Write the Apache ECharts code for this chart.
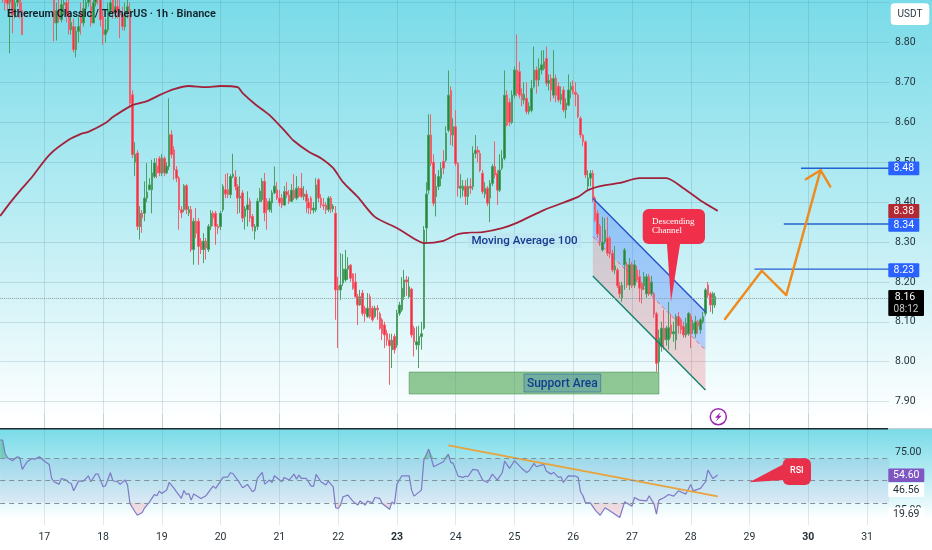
<!DOCTYPE html>
<html><head><meta charset="utf-8">
<style>html,body{margin:0;padding:0;background:#fff}#c{width:932px;height:550px}</style>
<script src="https://cdn.jsdelivr.net/npm/echarts@6/dist/echarts.min.js"></script>
</head><body><div id="c"></div>
<script>
// ---------- tick labels ----------
const dayLabels = [17,18,19,20,21,22,23,24,25,26,27,28,29,30,31];
const boldDays = [23,30];
const titleText = 'Ethereum Classic / TetherUS · 1h · Binance';
// ---------- candles, one array per calendar day: [open, close, low, high] ----------
const day16 = [[8.93,8.95,8.91,8.97],[8.95,8.92,8.90,8.97],[8.92,8.90,8.88,8.94],[8.93,8.897,8.88,8.95],[8.90,8.93,8.773,8.95],[8.93,8.869,8.823,8.95],[8.87,8.90,8.86,8.93],[8.90,8.93,8.89,8.95],[8.93,8.88,8.86,8.95],[8.88,8.82,8.819,8.90],[8.93,8.95,8.915,8.97],[8.95,8.93,8.92,8.98],[8.93,8.96,8.925,8.98],[8.96,8.94,8.93,8.98],[8.94,8.97,8.93,8.99],[8.97,8.95,8.94,8.99],[8.95,8.97,8.94,8.99],[8.97,8.94,8.93,8.99]];
const day17 = [[8.94,8.96,8.93,8.98],[8.96,8.94,8.93,8.98],[8.94,8.96,8.92,8.98],[8.96,8.92,8.91,8.97],[8.92,8.849,8.803,8.93],[8.849,8.88,8.805,8.90],[8.88,8.86,8.85,8.91],[8.857,8.895,8.85,8.92],[8.895,8.90,8.87,8.93],[8.90,8.87,8.85,8.92],[8.873,8.832,8.82,8.91],[8.832,8.85,8.82,8.87],[8.84,8.782,8.775,8.86],[8.782,8.828,8.763,8.84],[8.828,8.84,8.80,8.87],[8.874,8.849,8.82,8.90],[8.849,8.885,8.84,8.91],[8.885,8.90,8.87,8.93],[8.90,8.92,8.89,8.94],[8.89,8.849,8.84,8.91],[8.849,8.90,8.85,8.93],[8.90,8.93,8.89,8.95],[8.93,8.91,8.895,8.95],[8.91,8.857,8.84,8.93]];
const day18 = [[8.865,8.82,8.794,8.88],[8.82,8.832,8.80,8.86],[8.832,8.88,8.825,8.90],[8.88,8.90,8.87,8.93],[8.91,8.874,8.86,8.93],[8.874,8.89,8.86,8.92],[8.89,8.88,8.86,8.91],[8.88,8.87,8.811,8.91],[8.87,8.84,8.83,8.89],[8.84,8.874,8.83,8.90],[8.874,8.89,8.86,8.91],[8.882,8.648,8.64,8.90],[8.669,8.519,8.51,8.68],[8.50,8.52,8.465,8.55],[8.523,8.339,8.33,8.53],[8.339,8.372,8.306,8.39],[8.372,8.36,8.323,8.38],[8.372,8.41,8.352,8.452],[8.41,8.425,8.40,8.498],[8.431,8.443,8.43,8.46],[8.431,8.473,8.372,8.506],[8.464,8.498,8.46,8.51],[8.49,8.473,8.46,8.51],[8.51,8.473,8.465,8.515]];
const day19 = [[8.473,8.51,8.465,8.52],[8.51,8.473,8.465,8.515],[8.473,8.49,8.47,8.50],[8.489,8.569,8.48,8.66],[8.569,8.519,8.51,8.58],[8.531,8.481,8.456,8.54],[8.481,8.46,8.45,8.49],[8.46,8.381,8.331,8.465],[8.381,8.373,8.36,8.39],[8.381,8.441,8.375,8.445],[8.441,8.381,8.37,8.445],[8.373,8.381,8.365,8.39],[8.381,8.281,8.275,8.39],[8.281,8.352,8.243,8.36],[8.352,8.322,8.31,8.385],[8.352,8.289,8.243,8.36],[8.302,8.281,8.27,8.31],[8.281,8.302,8.247,8.322],[8.302,8.285,8.256,8.31],[8.281,8.339,8.275,8.345],[8.339,8.372,8.33,8.38],[8.372,8.36,8.34,8.378],[8.372,8.339,8.293,8.378],[8.339,8.335,8.32,8.345]];
const day20 = [[8.339,8.372,8.33,8.378],[8.381,8.439,8.375,8.445],[8.431,8.42,8.41,8.47],[8.431,8.419,8.41,8.473],[8.419,8.464,8.41,8.47],[8.464,8.47,8.46,8.521],[8.463,8.439,8.43,8.48],[8.439,8.41,8.37,8.445],[8.41,8.415,8.373,8.464],[8.423,8.36,8.35,8.43],[8.364,8.383,8.331,8.39],[8.381,8.393,8.339,8.427],[8.402,8.36,8.35,8.41],[8.364,8.339,8.327,8.37],[8.327,8.339,8.306,8.345],[8.339,8.402,8.33,8.41],[8.402,8.427,8.40,8.435],[8.406,8.452,8.40,8.46],[8.452,8.373,8.352,8.473],[8.402,8.381,8.331,8.41],[8.381,8.402,8.375,8.41],[8.398,8.423,8.373,8.43],[8.423,8.44,8.42,8.489],[8.431,8.41,8.405,8.45]];
const day21 = [[8.41,8.398,8.39,8.43],[8.41,8.393,8.385,8.42],[8.393,8.426,8.39,8.44],[8.426,8.418,8.41,8.45],[8.418,8.402,8.395,8.43],[8.402,8.43,8.40,8.445],[8.43,8.41,8.405,8.47],[8.41,8.435,8.405,8.465],[8.435,8.415,8.41,8.44],[8.435,8.414,8.41,8.473],[8.414,8.42,8.405,8.44],[8.42,8.402,8.373,8.43],[8.40,8.385,8.37,8.41],[8.41,8.38,8.37,8.415],[8.38,8.385,8.372,8.40],[8.381,8.443,8.375,8.46],[8.456,8.41,8.40,8.46],[8.41,8.393,8.385,8.42],[8.393,8.39,8.38,8.41],[8.393,8.381,8.37,8.40],[8.381,8.41,8.375,8.415],[8.41,8.383,8.373,8.415],[8.383,8.39,8.375,8.395],[8.372,8.18,8.105,8.39]];
const day22 = [[8.19,8.18,8.034,8.213],[8.18,8.192,8.155,8.272],[8.197,8.232,8.19,8.27],[8.205,8.232,8.20,8.28],[8.232,8.24,8.205,8.262],[8.242,8.209,8.20,8.245],[8.22,8.184,8.18,8.222],[8.2,8.163,8.16,8.222],[8.163,8.142,8.092,8.17],[8.142,8.163,8.14,8.18],[8.172,8.121,8.115,8.18],[8.134,8.12,8.1,8.14],[8.113,8.134,8.11,8.172],[8.163,8.113,8.108,8.17],[8.134,8.105,8.1,8.14],[8.113,8.134,8.11,8.14],[8.134,8.13,8.105,8.142],[8.12,8.084,8.08,8.125],[8.105,8.071,8.054,8.11],[8.092,8.067,8.034,8.10],[8.071,8.054,8.04,8.08],[8.054,8.04,7.942,8.07],[8.03,8.054,7.984,8.07],[8.063,8.03,8.02,8.07]];
const day23 = [[8.042,8.121,8.035,8.13],[8.121,8.142,8.115,8.15],[8.13,8.184,8.125,8.212],[8.163,8.205,8.155,8.23],[8.205,8.2,8.165,8.215],[8.163,8.188,8.16,8.213],[8.182,8.067,8.06,8.185],[8.084,8.05,8.013,8.09],[8.042,8.05,8.03,8.088],[8.042,8.063,7.984,8.09],[8.063,8.07,8.03,8.10],[8.084,8.33,8.08,8.34],[8.335,8.42,8.30,8.45],[8.43,8.568,8.42,8.62],[8.568,8.497,8.49,8.62],[8.50,8.397,8.39,8.52],[8.414,8.439,8.364,8.47],[8.439,8.464,8.43,8.48],[8.46,8.485,8.44,8.50],[8.502,8.485,8.47,8.53],[8.505,8.573,8.50,8.59],[8.58,8.668,8.575,8.73],[8.68,8.568,8.543,8.69],[8.568,8.589,8.54,8.61]];
const day24 = [[8.589,8.497,8.49,8.63],[8.497,8.435,8.414,8.50],[8.435,8.44,8.41,8.47],[8.43,8.44,8.414,8.455],[8.44,8.414,8.393,8.455],[8.414,8.439,8.393,8.46],[8.44,8.435,8.42,8.46],[8.439,8.522,8.43,8.54],[8.522,8.53,8.51,8.568],[8.53,8.525,8.50,8.54],[8.522,8.48,8.475,8.53],[8.472,8.426,8.42,8.48],[8.42,8.435,8.41,8.45],[8.435,8.397,8.39,8.44],[8.41,8.447,8.35,8.455],[8.447,8.489,8.44,8.495],[8.489,8.468,8.46,8.552],[8.472,8.43,8.393,8.48],[8.43,8.48,8.425,8.52],[8.485,8.51,8.48,8.53],[8.51,8.668,8.505,8.73],[8.668,8.593,8.59,8.68],[8.65,8.60,8.59,8.66],[8.60,8.668,8.595,8.68]];
const day25 = [[8.668,8.731,8.66,8.74],[8.731,8.673,8.665,8.82],[8.727,8.668,8.66,8.752],[8.671,8.656,8.64,8.685],[8.656,8.67,8.645,8.70],[8.66,8.627,8.62,8.70],[8.627,8.64,8.62,8.65],[8.63,8.685,8.625,8.706],[8.689,8.731,8.685,8.79],[8.731,8.706,8.672,8.74],[8.706,8.735,8.69,8.76],[8.731,8.744,8.72,8.78],[8.735,8.752,8.73,8.781],[8.76,8.698,8.69,8.79],[8.698,8.705,8.68,8.72],[8.71,8.681,8.652,8.72],[8.668,8.71,8.66,8.781],[8.71,8.668,8.65,8.72],[8.69,8.656,8.65,8.70],[8.656,8.67,8.645,8.69],[8.681,8.631,8.625,8.69],[8.631,8.648,8.61,8.66],[8.643,8.681,8.64,8.72],[8.681,8.69,8.66,8.70]];
const day26 = [[8.69,8.675,8.67,8.705],[8.675,8.67,8.64,8.70],[8.668,8.614,8.61,8.672],[8.61,8.568,8.56,8.615],[8.568,8.551,8.54,8.57],[8.551,8.468,8.46,8.555],[8.44,8.46,8.43,8.48],[8.46,8.472,8.44,8.48],[8.472,8.41,8.40,8.48],[8.41,8.355,8.35,8.415],[8.372,8.32,8.31,8.38],[8.34,8.30,8.29,8.345],[8.28,8.30,8.276,8.363],[8.30,8.33,8.295,8.36],[8.31,8.272,8.265,8.363],[8.31,8.272,8.26,8.315],[8.272,8.23,8.225,8.28],[8.23,8.24,8.22,8.29],[8.23,8.19,8.185,8.235],[8.19,8.17,8.16,8.20],[8.16,8.192,8.15,8.20],[8.243,8.28,8.18,8.285],[8.243,8.192,8.185,8.25],[8.192,8.243,8.18,8.26]];
const day27 = [[8.243,8.19,8.185,8.25],[8.192,8.243,8.185,8.255],[8.23,8.205,8.20,8.24],[8.213,8.184,8.15,8.23],[8.196,8.18,8.146,8.20],[8.19,8.213,8.18,8.225],[8.17,8.213,8.16,8.22],[8.213,8.17,8.165,8.22],[8.17,8.20,8.165,8.215],[8.17,8.12,8.11,8.175],[8.12,7.996,7.975,8.125],[8.0,8.059,7.975,8.08],[8.038,8.084,8.025,8.10],[8.084,8.055,8.03,8.13],[8.055,8.084,8.04,8.09],[8.055,8.085,8.03,8.15],[8.092,8.07,8.06,8.12],[8.07,8.075,8.05,8.10],[8.055,8.113,8.03,8.12],[8.113,8.09,8.07,8.125],[8.105,8.08,8.07,8.11],[8.088,8.067,8.06,8.10],[8.067,8.096,8.06,8.11],[8.07,8.121,8.065,8.125]];
const day28 = [[8.113,8.07,8.034,8.12],[8.08,8.096,8.07,8.105],[8.07,8.10,8.06,8.115],[8.10,8.09,8.07,8.105],[8.08,8.105,8.07,8.11],[8.10,8.113,8.095,8.125],[8.121,8.18,8.115,8.185],[8.192,8.167,8.16,8.20],[8.17,8.142,8.125,8.175],[8.142,8.17,8.12,8.175],[8.142,8.163,8.135,8.173]];
// ---------- moving average: hour index and value ----------
const maHours = [0,4,9,13,20,28,33,36,43,46,54,60,65,71,77,84,90,97,99,104,110,117,120,126,131,136,140,146,153,162,170,173,181,187,197,205,211,222,236,240,245,253,261,272,279,287,293];
const maValues = [8.365,8.398,8.435,8.463,8.518,8.556,8.571,8.576,8.598,8.613,8.643,8.653,8.668,8.683,8.691,8.688,8.691,8.688,8.673,8.646,8.618,8.573,8.553,8.526,8.510,8.485,8.450,8.413,8.363,8.335,8.305,8.297,8.303,8.320,8.325,8.335,8.348,8.380,8.413,8.430,8.440,8.448,8.460,8.460,8.435,8.400,8.378];
// ---------- RSI: hour index and value ----------
const rsiHours = [0,1,2,3,5,7,8,9,11,13,14,16,18,20,21,22,24,25,27,28,29,30,32,34,36,37,39,40,42,43,45,46,48,49,51,52,53,54,56,58,59,61,63,64,65,66,67,68,69,71,72,74,75,76,77,78,79,82,84,86,87,88,91,93,94,95,97,99,101,103,104,105,107,108,110,111,112,115,116,118,120,121,122,123,125,127,128,129,131,133,134,136,137,138,139,140,142,144,146,147,149,150,152,153,155,156,159,160,161,162,164,167,168,169,172,173,175,177,181,183,184,185,187,189,190,191,193,195,197,199,201,203,205,206,208,210,213,215,216,218,219,222,223,225,226,228,229,230,232,235,236,237,238,239,241,243,245,247,250,253,255,258,259,261,264,265,267,268,269,271,273,275,277,280,282,283,286,288,289,291,293];
const rsiValues = [95.7,95.7,80.6,75.8,72.4,76.9,76,62.6,71.2,75,73.9,76.9,72,68.2,52.4,48.7,46,52.4,50.6,47.9,46.8,38.5,49.4,49.4,55.4,48.7,57.3,57.3,43,44.2,58.8,49.8,48.7,45.7,50.6,45,24.2,19.4,11,14,19.4,26,34.4,32.9,38.2,35.5,37.4,39.3,47.9,41.2,37.4,29.9,38.9,34.4,35.5,28,34.8,29.9,32.9,40.4,43.8,41.2,53.6,54.3,58.8,58,50.6,41.9,45.7,37.4,39.3,52.4,59.2,46,50.6,47.9,55.4,48.7,53.6,50.6,57.3,51.7,56.2,52.4,52.4,43.8,43.8,57,48.7,45,49.4,43,19.4,18.6,22.4,31.8,33.6,26.9,22.4,27.2,22.4,26.9,25,31,29.9,24.2,17.8,26.1,23.5,45.7,55.4,55.4,39.3,32.5,39.3,73,85.5,65.6,71.2,79.9,70.5,69.4,55,53.6,55,54.3,62.6,61.8,50.6,47.9,57.3,50.6,58.8,72,63.7,72.4,63.7,59.2,61.1,69.4,65.6,68.2,60.7,57.3,59.2,53.6,54.3,47.9,55.4,55,53.6,37.4,32.9,25,25,16.7,11,19.4,14,8.5,26.1,21.2,31,28,27.2,32.9,23.5,12.2,28,30.6,34.4,32.5,38.5,34.8,45.7,38.5,41.2,48.7,61.8,52.4,56.2];
const rsiLevels = [25,50,75];
const rsiTrendHours = [183,293];
const rsiTrendValues = [89.75,32.3];
// ---------- drawings ----------
const channelHours = [242,288];
const channelUpper = [8.4095,8.1253];
const channelMid = [8.3133,8.0293];
const channelLower = [8.2148,7.9291];
const supportHours = [167,269];
const supportValues = [7.974,7.919];
const lastPrice = 8.16;
const targetHours = [[327,363],[320,363],[308,363]];
const targetValues = [8.485,8.345,8.232];
const arrowHours = [296,311,321,335];
const arrowValues = [8.107,8.228,8.167,8.48];
const arrowHeadHours = [329,335,339];
const arrowHeadValues = [8.457,8.48,8.439];

const FONT = 'Roboto, sans-serif';
const candles = [].concat(day16,day17,day18,day19,day20,day21,day22,day23,day24,day25,day26,day27,day28);
const categories = [];
for (let i=0;i<364;i++){ const h=(i+6)%24, d=16+Math.floor((i+6)/24); categories.push(d+' '+String(h).padStart(2,'0')); }
const zip=(a,b)=>a.map((x,i)=>[x,b[i]]);
const isDayStart=i=>i>=18 && (i-18)%24===0 && dayLabels.includes(16+Math.floor((i+6)/24));
const bg = () => ({type:'linear',x:0,y:0,x2:0,y2:1,colorStops:[{offset:0,color:'#79dbe8'},{offset:.5,color:'#b7ecf3'},{offset:1,color:'#ffffff'}]});

function tag(x,y,w,h,fill,text,color,font,r){
  return [
    {type:'rect',z:50,shape:{x,y,width:w,height:h,r:r||1},style:{fill}},
    {type:'text',z:51,style:{text,x:x+w/2,y:y+h/2,fill:color,font:font||('10.5px '+FONT),align:'center',verticalAlign:'middle'}}
  ];
}
const graphics = [
  {type:'rect',z:-10,shape:{x:0,y:0,width:932,height:420},style:{fill:bg()}},
  {type:'rect',z:1,shape:{x:0,y:429,width:932,height:121},style:{fill:'#fff'}},
  {type:'rect',z:1,shape:{x:0,y:429,width:932,height:90},style:{fill:bg()}},
  {type:'line',z:3,shape:{x1:0,y1:428.7,x2:888,y2:428.7},style:{stroke:'#1c2a2e',lineWidth:1.4}},
  {type:'line',z:3,shape:{x1:888,y1:428.7,x2:932,y2:428.7},style:{stroke:'#b9c4c8',lineWidth:1}},
  {type:'text',z:60,style:{text:titleText,x:7,y:14,fill:'#10202a',font:'600 10.9px '+FONT,verticalAlign:'middle'}},
  ...tag(890.7,3.3,38.6,21.7,'#ffffff','USDT','#2a3a44','10px '+FONT,4),
  ...tag(888.3,161.5,31,13.8,'#2962ff','8.48','#fff'),
  ...tag(888.3,204,31,14.3,'#b22833','8.38','#fff'),
  ...tag(888.3,218.3,31,13.4,'#2962ff','8.34','#fff'),
  ...tag(888.3,263.3,31,14,'#2962ff','8.23','#fff'),
  {type:'rect',z:50,shape:{x:888.3,y:290,width:35.7,height:26,r:1},style:{fill:'#000'}},
  {type:'text',z:51,style:{text:'8.16',x:905,y:297.5,fill:'#fff',font:'10.5px '+FONT,align:'center',verticalAlign:'middle'}},
  {type:'text',z:51,style:{text:'08:12',x:906,y:309,fill:'#c8c8c8',font:'10px '+FONT,align:'center',verticalAlign:'middle'}},
  // annotations
  {type:'rect',z:40,shape:{x:468,y:233,width:114,height:15,r:2},style:{fill:'rgba(190,225,240,.55)'}},
  {type:'text',z:41,style:{text:'Moving Average 100',x:524.5,y:241,fill:'#17398f',font:'500 11.6px '+FONT,align:'center',verticalAlign:'middle'}},
  {type:'rect',z:40,shape:{x:524,y:374,width:76.7,height:18},style:{fill:'rgba(70,130,175,.35)',stroke:'rgba(40,100,170,.55)',lineWidth:1}},
  {type:'text',z:41,style:{text:'Support Area',x:562.3,y:383.5,fill:'#0f3f8c',font:'500 12px '+FONT,align:'center',verticalAlign:'middle'}},
  {type:'polygon',z:40,shape:{points:[[666.7,240],[680.7,240],[671,301.7]]},style:{fill:'#f0304a'}},
  {type:'rect',z:40,shape:{x:642.7,y:209,width:62.3,height:35,r:6},style:{fill:'#f0304a'}},
  {type:'text',z:41,style:{text:'Descending\nChannel',x:652,y:226,fill:'#fff',font:'9px "Liberation Serif", serif',lineHeight:9,verticalAlign:'middle'}},
  {type:'circle',z:40,shape:{cx:718.3,cy:416.7,r:8},style:{fill:'rgba(255,255,255,.7)',stroke:'#9c27b0',lineWidth:1.5}},
  {type:'polygon',z:41,shape:{points:[[720.8,412],[715,417.8],[717.8,417.8],[715.8,421.5],[721.8,415.8],[718.8,415.8]]},style:{fill:'#9c27b0'}},
  {type:'polygon',z:40,shape:{points:[[784,464],[784,480],[749.3,482.3]]},style:{fill:'#e8304a'}},
  {type:'rect',z:40,shape:{x:782.7,y:458.3,width:28.3,height:26.7,r:6},style:{fill:'#e8304a'}},
  {type:'text',z:41,style:{text:'RSI',x:796.8,y:471,fill:'#fff',font:'500 9px '+FONT,align:'center',verticalAlign:'middle'}},
  // RSI scale tags
  {type:'text',z:45,style:{text:'75.00',x:895,y:452,fill:'#1e2c34',font:'10.5px '+FONT,verticalAlign:'middle'}},
  {type:'text',z:45,style:{text:'25.00',x:895,y:510,fill:'#1e2c34',font:'10.5px '+FONT,verticalAlign:'middle'}},
  ...tag(888.3,468.5,36,13.5,'#7e57c2','54.60','#fff'),
  ...tag(888.3,483,36,14,'#ffffff','46.56','#1e2c34'),
  ...tag(888.3,507.5,36,14,'#ffffff','19.69','#1e2c34')
];

const option = {
  animation:false,
  backgroundColor:'transparent',
  textStyle:{fontFamily:FONT},
  graphic:{elements:graphics},
  grid:[
    {left:0.2,width:888.9,top:-37.3,height:478.8,show:false,outerBoundsMode:'none'},
    {left:0.2,width:888.9,top:414,height:111,show:false,outerBoundsMode:'none'}
  ],
  xAxis:[
    {type:'category',gridIndex:0,data:categories,boundaryGap:false,z:0,
     axisLine:{show:false},axisTick:{show:false},axisLabel:{show:false},
     splitLine:{show:true,interval:isDayStart,lineStyle:{color:'rgba(90,130,145,.22)',width:1}}},
    {type:'category',gridIndex:1,data:categories,boundaryGap:false,z:2,
     axisLine:{show:false},axisTick:{show:false},
     axisLabel:{show:true,interval:isDayStart,margin:7,color:'#1e2c34',fontSize:10.5,fontFamily:FONT,
       formatter:v=>{const d=+v.split(' ')[0];return boldDays.includes(d)?'{b|'+d+'}':String(d);},
       rich:{b:{fontWeight:'bold',fontSize:10.5,color:'#1e2c34',fontFamily:FONT}}},
     splitLine:{show:true,interval:isDayStart,lineStyle:{color:'rgba(90,130,145,.18)',width:1}}}
  ],
  yAxis:[
    {type:'value',gridIndex:0,position:'right',min:7.8,max:9.0,interval:0.1,z:0,
     axisLine:{show:false},axisTick:{show:false},
     axisLabel:{margin:6,color:'#24343c',fontSize:10.5,fontFamily:FONT,
       formatter:v=>(v<7.85||v>8.85)?'':v.toFixed(2)},
     splitLine:{show:true,lineStyle:{color:'rgba(90,130,145,.22)',width:1}}},
    {type:'value',gridIndex:1,position:'right',min:0,max:125,interval:25,z:2,
     axisLine:{show:false},axisTick:{show:false},axisLabel:{show:false},splitLine:{show:false}}
  ],
  series:[
    {type:'custom',xAxisIndex:0,yAxisIndex:0,z:2,clip:true,silent:true,
     data:[[channelHours[0],channelHours[1],channelUpper[0],channelUpper[1],channelMid[0],channelMid[1],0],
           [channelHours[0],channelHours[1],channelMid[0],channelMid[1],channelLower[0],channelLower[1],1]],
     encode:{x:[0,1],y:[2,3,4,5]},
     renderItem:(p,api)=>{
       const a=api.value(0),b=api.value(1);
       const pts=[api.coord([a,api.value(2)]),api.coord([b,api.value(3)]),api.coord([b,api.value(5)]),api.coord([a,api.value(4)])];
       return {type:'polygon',shape:{points:pts},style:{fill:api.value(6)===0?'rgba(41,98,255,.28)':'rgba(242,54,69,.2)'}};
     }},
    {type:'candlestick',name:'ETCUSDT',xAxisIndex:0,yAxisIndex:0,z:3,barWidth:2,data:candles,
     itemStyle:{color:'#21893c',color0:'#ee3347',borderColor:'#4c9f63',borderColor0:'#f0606f',borderWidth:1},
     markLine:{silent:true,symbol:'none',label:{show:false},animation:false,
       lineStyle:{color:'#8f9ea3',type:'dotted',width:1},data:[{yAxis:lastPrice}]},
     markArea:{silent:true,itemStyle:{color:'rgba(76,165,80,.6)',borderColor:'rgba(60,140,70,.5)',borderWidth:1},
       data:[[{coord:[supportHours[0],supportValues[0]]},{coord:[supportHours[1],supportValues[1]]}]]}},
    {type:'line',name:'MA100',xAxisIndex:0,yAxisIndex:0,z:4,data:zip(maHours,maValues),smooth:0.25,showSymbol:false,
     lineStyle:{color:'#a3213a',width:1.8}},
    {type:'line',xAxisIndex:0,yAxisIndex:0,z:4,data:zip(channelHours,channelUpper),showSymbol:false,lineStyle:{color:'#2550c8',width:1.4}},
    {type:'line',xAxisIndex:0,yAxisIndex:0,z:4,data:zip(channelHours,channelMid),showSymbol:false,lineStyle:{color:'rgba(220,70,90,.7)',width:1,type:[4,3]}},
    {type:'line',xAxisIndex:0,yAxisIndex:0,z:4,data:zip(channelHours,channelLower),showSymbol:false,lineStyle:{color:'#15806a',width:1.4}},
    ...targetHours.map((h,i)=>({type:'line',xAxisIndex:0,yAxisIndex:0,z:4,showSymbol:false,
      data:zip(h,[targetValues[i],targetValues[i]]),lineStyle:{color:'#2360d0',width:1.4}})),
    {type:'line',xAxisIndex:0,yAxisIndex:0,z:5,data:zip(arrowHours,arrowValues),showSymbol:false,lineStyle:{color:'#ef8a1c',width:2.4,cap:'round',join:'round'}},
    {type:'line',xAxisIndex:0,yAxisIndex:0,z:5,data:zip(arrowHeadHours,arrowHeadValues),showSymbol:false,lineStyle:{color:'#ef8a1c',width:2.4,cap:'round',join:'round'}},
    // RSI panel
    {type:'line',xAxisIndex:1,yAxisIndex:1,z:3,data:zip(rsiHours,rsiValues),showSymbol:false,
     lineStyle:{color:'#7d79c6',width:1.2},
     markArea:{silent:true,itemStyle:{color:'rgba(126,87,194,.09)'},data:[[{yAxis:25},{yAxis:75}]]},
     markLine:{silent:true,symbol:'none',label:{show:false},animation:false,
       lineStyle:{color:'#7f919b',type:[5,4],width:1},data:rsiLevels.map(v=>({yAxis:v}))}},
    {type:'line',xAxisIndex:1,yAxisIndex:1,z:2,data:zip(rsiHours,rsiValues.map(v=>Math.max(v,75))),showSymbol:false,
     lineStyle:{width:0},areaStyle:{origin:75,color:'rgba(46,160,90,.5)'}},
    {type:'line',xAxisIndex:1,yAxisIndex:1,z:2,data:zip(rsiHours,rsiValues.map(v=>Math.min(v,25))),showSymbol:false,
     lineStyle:{width:0},areaStyle:{origin:25,color:'rgba(240,90,110,.28)'}},
    {type:'line',xAxisIndex:1,yAxisIndex:1,z:4,data:zip(rsiTrendHours,rsiTrendValues),showSymbol:false,
     lineStyle:{color:'#e8a33c',width:1.8}}
  ]
};
const chart = echarts.init(document.getElementById('c'),null,{renderer:'canvas',width:932,height:550});
chart.setOption(option);
</script></body></html>
